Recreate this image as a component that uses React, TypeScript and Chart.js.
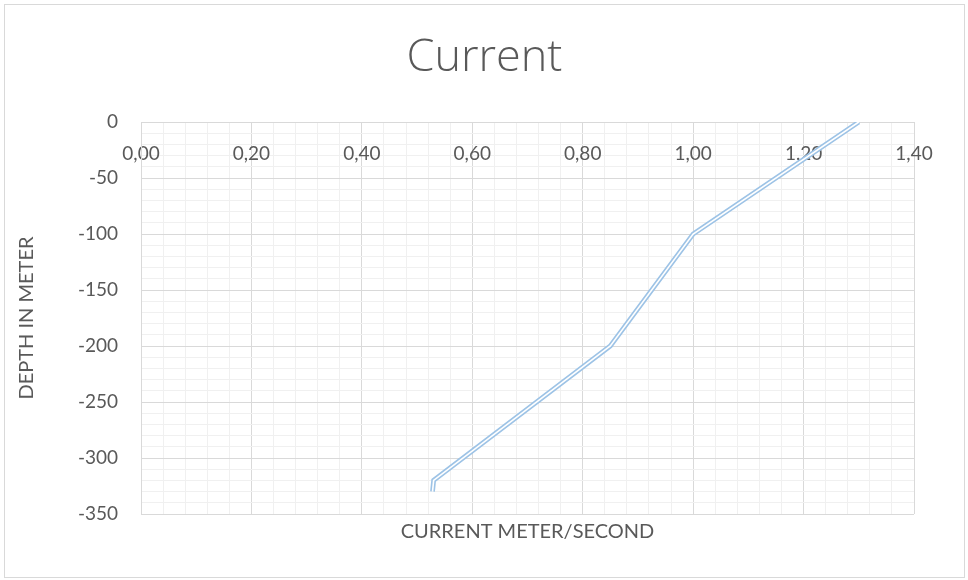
import React, { useEffect, useRef } from "react";
import { Chart, registerables } from "chart.js";

Chart.register(...registerables);

const currentValues = [1.3, 1.0, 0.85, 0.53, 0.528];
const depthValues = [0, -100, -200, -320, -330];
const chartTitle = "Current";
const xTitle = "CURRENT METER/SECOND";
const yTitle = "DEPTH IN METER";
const xMin = 0;
const xMax = 1.4;
const yMin = -350;
const yMax = 0;

const FONT = "Lato, 'Open Sans', sans-serif";
const TITLE_FONT = "'Open Sans', Lato, sans-serif";
const TEXT = "#595959";
const MAJOR = "#D9D9D9";
const MINOR = "#F0F0F0";

export default function App() {
  const ref = useRef<HTMLCanvasElement | null>(null);

  useEffect(() => {
    if (!ref.current) return;
    const points = currentValues.map((x, i) => ({ x, y: depthValues[i] }));
    const chart = new Chart(ref.current, {
      type: "scatter",
      data: {
        datasets: [
          {
            data: points,
            showLine: true,
            borderColor: "#FFFFFF",
            borderWidth: 1.6,
            pointRadius: 0,
            borderJoinStyle: "miter",
            order: 0,
            xAxisID: "x",
            yAxisID: "y",
          },
          {
            data: points,
            showLine: true,
            borderColor: "#9DC3E6",
            borderWidth: 4.8,
            pointRadius: 0,
            borderJoinStyle: "miter",
            order: 1,
            xAxisID: "x",
            yAxisID: "y",
          },
        ],
      },
      options: {
        responsive: false,
        animation: false,
        layout: { padding: 0 },
        plugins: {
          legend: { display: false },
          tooltip: { enabled: false },
          title: {
            display: true,
            text: chartTitle,
            color: TEXT,
            font: { family: TITLE_FONT, size: 45, weight: 300 },
            padding: { top: 26, bottom: 37 },
          },
        },
        scales: {
          x: {
            type: "linear",
            position: { y: 0 } as any,
            min: xMin,
            max: xMax,
            afterFit: (s: any) => {
              s.height = 0;
            },
            border: { display: true, color: MAJOR },
            grid: {
              drawTicks: false,
              color: (ctx: any) =>
                ctx.tick && Math.round(ctx.tick.value * 100) % 20 === 0 ? MAJOR : MINOR,
            },
            ticks: {
              stepSize: 0.04,
              autoSkip: false,
              maxRotation: 0,
              padding: 20,
              color: TEXT,
              font: { family: FONT, size: 19 },
              callback: (v: any) => {
                const n = Number(v);
                return Math.round(n * 100) % 20 === 0 ? n.toFixed(2).replace(".", ",") : "";
              },
            },
          },
          x2: {
            type: "linear",
            position: "bottom",
            min: xMin,
            max: xMax,
            afterFit: (s: any) => {
              s.height = 63;
            },
            border: { display: false },
            grid: { display: false },
            ticks: { display: false },
            title: {
              display: true,
              text: xTitle,
              color: TEXT,
              font: { family: FONT, size: 20 },
              padding: { top: 0, bottom: 33 },
            },
          },
          y: {
            type: "linear",
            position: "left",
            min: yMin,
            max: yMax,
            afterFit: (s: any) => {
              s.width = 136;
            },
            border: { display: true, color: MAJOR },
            grid: {
              drawTicks: false,
              color: (ctx: any) =>
                ctx.tick && Math.round(ctx.tick.value) % 50 === 0 ? MAJOR : MINOR,
            },
            ticks: {
              stepSize: 10,
              autoSkip: false,
              padding: 23,
              color: TEXT,
              font: { family: FONT, size: 19 },
              callback: (v: any) => {
                const n = Math.round(Number(v));
                return n % 50 === 0 ? String(n) : "";
              },
            },
            title: {
              display: true,
              text: yTitle,
              color: TEXT,
              font: { family: FONT, size: 20 },
              padding: { top: 10, bottom: 0 },
            },
          },
          yRight: {
            type: "linear",
            position: "right",
            min: yMin,
            max: yMax,
            afterFit: (s: any) => {
              s.width = 50;
            },
            border: { display: false },
            grid: { display: false },
            ticks: { display: false },
          },
        },
      },
    });
    return () => chart.destroy();
  }, []);

  return (
    <div
      style={{
        position: "absolute",
        left: 4,
        top: 4,
        width: 961,
        height: 574,
        boxSizing: "border-box",
        border: "1px solid #D9D9D9",
        background: "#fff",
      }}
    >
      <canvas ref={ref} width={959} height={572} style={{ display: "block" }} />
    </div>
  );
}
